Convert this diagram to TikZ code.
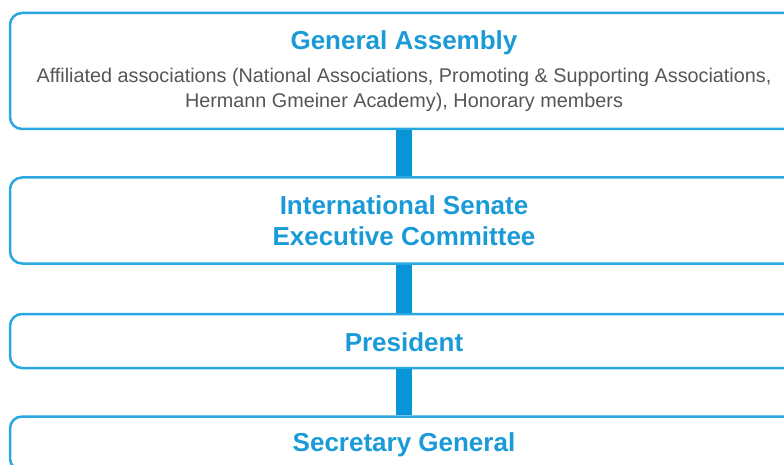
\documentclass[tikz,border=0pt]{standalone}
\usepackage{fontspec}
\setmainfont{Liberation Sans}
\usetikzlibrary{positioning}

\definecolor{sosblue}{HTML}{1A9AD6}
\definecolor{sosline}{HTML}{2AA7E1}
\definecolor{sosbar}{HTML}{0795D8}
\definecolor{subgray}{HTML}{555555}

\newcommand{\subfont}{\color{subgray}\mdseries\fontsize{19.8}{25}\selectfont}

\begin{document}
\begin{tikzpicture}[
    x=1pt, y=1pt,
    node distance=46pt,
    every node/.style={draw=sosline, line width=2.5pt, rounded corners=12pt, align=center,
        minimum width=788pt, text=sosblue, font=\fontsize{26}{31}\selectfont\bfseries},
    bar/.style={sosbar, line width=16pt}
]
\useasboundingbox (0,0) rectangle (784,464);
\clip (0,0) rectangle (784,464);

% Nodes
\node[minimum height=116pt] (assembly) at (404,393) {General Assembly\\[2pt]
    {\subfont Affiliated associations (National Associations, Promoting \& Supporting Associations,}\\[-6pt]
    {\subfont Hermann Gmeiner Academy), Honorary members}};
\node[minimum height=86pt, below=of assembly] (senate) {International Senate\\Executive Committee};
\node[minimum height=54pt, below=48pt of senate, text height=21pt] (president) {President};
\node[minimum height=54pt, below=of president, text height=22pt] (secretary) {Secretary General};

% Bars between levels
\draw[bar] (assembly.south) -- (senate.north);
\draw[bar] (senate.south) -- (president.north);
\draw[bar] (president.south) -- (secretary.north);

\end{tikzpicture}
\end{document}
